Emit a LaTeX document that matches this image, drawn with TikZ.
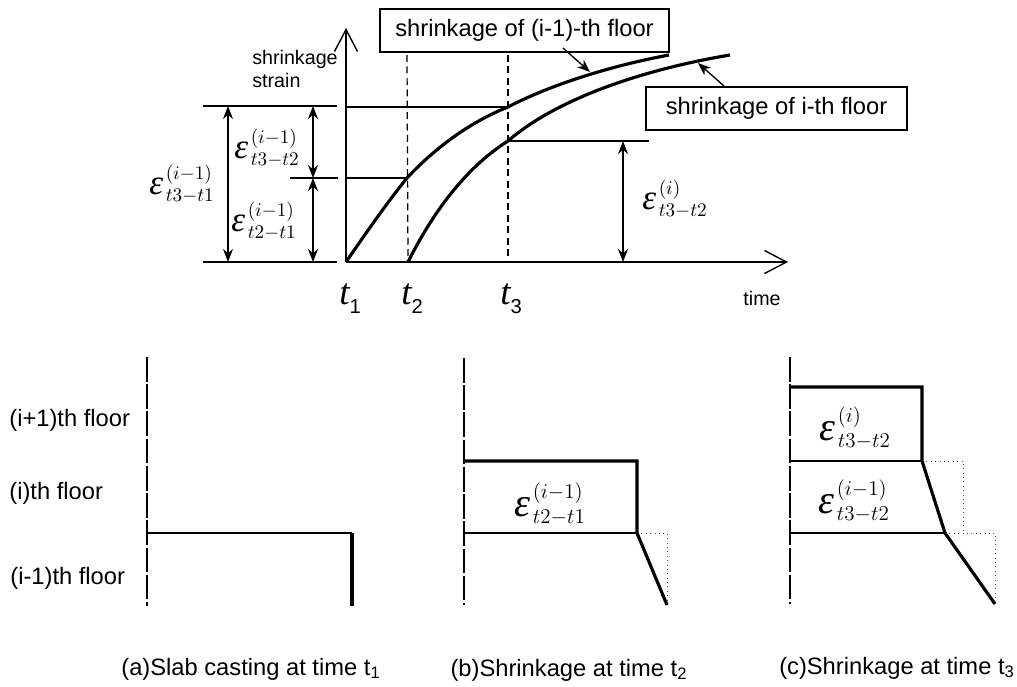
\documentclass[tikz,border=0pt]{standalone}
\usepackage{amsmath}
\usepackage{fontspec}
\setmainfont{Liberation Sans}
\newfontfamily\strainfont{Liberation Serif}
\usetikzlibrary{arrows.meta, positioning}
\DeclareMathSizes{17.28}{17.28}{10.95}{8}
\DeclareMathSizes{20.74}{20.74}{12}{8}
\newcommand{\straingreek}[1]{{\text{\fontsize{#1}{#1}\selectfont\strainfont\itshape ε}\kern1.5pt}}
\newcommand{\strainsmall}[2]{{\LARGE$\straingreek{20}_{#2}^{(#1)}$}}
\newcommand{\strainbig}[2]{{\huge$\straingreek{23}_{#2}^{(#1)}$}}
\newcommand{\timemark}[1]{{\fontsize{21}{21}\selectfont\strainfont\itshape t}\raisebox{-5pt}{\fontsize{11.5}{11.5}\selectfont #1}}

\begin{document}
\begin{tikzpicture}[x=0.02cm, y=-0.02cm, font=\fontsize{13.5}{15}\selectfont,
        thin line/.style={line width=0.75pt},
        slab/.style={line width=1.8pt, line join=miter},
        floor line/.style={line width=1.3pt},
        axis/.style={line width=0.8pt, -{Straight Barb[length=4.4mm, width=4.6mm]}},
        span/.style={line width=0.75pt, {Stealth[length=2.6mm, width=2mm]}-{Stealth[length=2.6mm, width=2mm]}},
        leader/.style={line width=0.75pt, -{Stealth[length=2.6mm, width=2mm]}},
        guide/.style={line width=0.7pt, dash pattern=on 4pt off 2.5pt},
        wall/.style={line width=0.6pt, dash pattern=on 14pt off 1.5pt},
        ghost/.style={line width=0.5pt, dotted, black!70},
        callout/.style={draw, line width=0.9pt, fill=white, inner sep=0pt, align=center},
        small/.style={font=\fontsize{11.2}{13.6}\selectfont, inner sep=0pt}]
        \useasboundingbox (0,0) rectangle (1017,686);
        % strain-time chart
        \coordinate (origin) at (346,262);
        \coordinate (ytop) at (346,28);
        \coordinate (xend) at (788,262);
        \coordinate (second) at (408,262);
        \coordinate (third) at (508,262);
        \coordinate (thirdtop) at (508,55);
        \coordinate (secondtop) at (407,55);
        \coordinate (upmid) at (407,178);
        \coordinate (uphigh) at (508,107);
        \coordinate (upend) at (669,55);
        \coordinate (lowhigh) at (508,141);
        \coordinate (lowend) at (730,55);
        \draw[guide] (secondtop) -- (second);
        \draw[guide] (thirdtop) -- (third);
        \draw[axis] (origin) -- (ytop);
        \draw[axis] (origin) -- (xend);
        \draw[slab] (origin) .. controls (366,233) and (386,204) .. (upmid)
          .. controls (435,148) and (470,122) .. (uphigh)
          .. controls (550,85) and (610,66) .. (upend);
        \draw[slab] (second) .. controls (432,214) and (465,168) .. (lowhigh)
          .. controls (555,100) and (640,70) .. (lowend);
        % level lines
        \coordinate (lefttop) at (203,106);
        \coordinate (lefttopend) at (337,106);
        \coordinate (leftbot) at (203,262);
        \coordinate (leftbotend) at (337,262);
        \coordinate (leftmid) at (290,178);
        \coordinate (leftmidend) at (338,178);
        \coordinate (axishigh) at (346,107);
        \coordinate (axismid) at (346,178);
        \coordinate (rightend) at (649,141);
        \draw[thin line] (lefttop) -- (lefttopend);
        \draw[thin line] (leftbot) -- (leftbotend);
        \draw[thin line] (leftmid) -- (leftmidend);
        \draw[thin line] (axishigh) -- (uphigh);
        \draw[thin line] (axismid) -- (upmid);
        \draw[thin line] (lowhigh) -- (rightend);
        % double arrows
        \coordinate (spanA) at (228,106);
        \coordinate (spanB) at (228,262);
        \coordinate (spanC) at (313,106);
        \coordinate (spanD) at (313,178);
        \coordinate (spanE) at (313,262);
        \coordinate (spanF) at (623,141);
        \coordinate (spanG) at (623,262);
        \draw[span] (spanA) -- (spanB);
        \draw[span] (spanC) -- (spanD);
        \draw[span] (spanD) -- (spanE);
        \draw[span] (spanF) -- (spanG);
        \node[inner sep=0pt] (e31) at (182,184) {\strainsmall{i-1}{t3-t1}};
        \node[inner sep=0pt] (e32) at (267,148) {\strainsmall{i-1}{t3-t2}};
        \node[inner sep=0pt] (e21) at (264,221) {\strainsmall{i-1}{t2-t1}};
        \node[inner sep=0pt] (e32i) at (675,199) {\strainsmall{i}{t3-t2}};
        \node[small, anchor=west, align=left] (ylabel) at (252,69) {shrinkage\\strain};
        \node[small] (xlabel) at (762,298) {time};
        \node (t1) at (350,299) {\timemark{1}};
        \node (t2) at (412,299) {\timemark{2}};
        \node (t3) at (511,299) {\timemark{3}};
        % callouts
        \node[callout, minimum width=5.78cm, minimum height=0.86cm] (upbox) at (524.5,30.5) {shrinkage of (i-1)-th floor};
        \node[callout, minimum width=5.22cm, minimum height=0.86cm] (lowbox) at (776.5,108.5) {shrinkage of i-th floor};
        \coordinate (upfoot) at (563,48);
        \coordinate (uptip) at (590,72);
        \coordinate (lowfoot) at (724,86);
        \coordinate (lowtip) at (698,63);
        \draw[leader] (upfoot) -- (uptip);
        \draw[leader] (lowfoot) -- (lowtip);
        % floor labels
        \node[anchor=west, inner sep=0pt] (floorC) at (9,420) {(i+1)th floor};
        \node[anchor=west, inner sep=0pt] (floorB) at (9,493) {(i)th floor};
        \node[anchor=west, inner sep=0pt] (floorA) at (10,578) {(i-1)th floor};
        % panel a
        \coordinate (wallAtop) at (147,357);
        \coordinate (wallAbot) at (147,606);
        \coordinate (aleft) at (147,533);
        \coordinate (aedge) at (352,533);
        \coordinate (afoot) at (352,606);
        \draw[wall] (wallAtop) -- (wallAbot);
        \draw[floor line] (aleft) -- (aedge);
        \draw[slab] (aedge) -- (afoot);
        \node (capA) at (251,669) {(a)Slab casting at time t\textsubscript{1}};
        % panel b
        \coordinate (wallBtop) at (464,358);
        \coordinate (wallBbot) at (464,605);
        \coordinate (btop) at (464,461);
        \coordinate (bcorner) at (637,461);
        \coordinate (bleft) at (464,533);
        \coordinate (bedge) at (637,533);
        \coordinate (bghost) at (667,533);
        \coordinate (bfoot) at (667,605);
        \draw[ghost] (bedge) -- (bghost) -- (bfoot);
        \draw[wall] (wallBtop) -- (wallBbot);
        \draw[slab] (btop) -- (bcorner) -- (bedge) -- (bfoot);
        \draw[floor line] (bleft) -- (bedge);
        \node[inner sep=0pt] (eb) at (550,504) {\strainbig{i-1}{t2-t1}};
        \node (capB) at (569,670) {(b)Shrinkage at time t\textsubscript{2}};
        % panel c
        \coordinate (wallCtop) at (790,357);
        \coordinate (wallCbot) at (790,604);
        \coordinate (ctop) at (790,387);
        \coordinate (ccorner) at (922,387);
        \coordinate (cleft) at (790,461);
        \coordinate (cedge) at (922,461);
        \coordinate (cghost) at (963,461);
        \coordinate (cghostfoot) at (963,533);
        \coordinate (cfloor) at (790,533);
        \coordinate (cknee) at (945,533);
        \coordinate (cghostend) at (995,533);
        \coordinate (cfoot) at (995,604);
        \draw[ghost] (cedge) -- (cghost) -- (cghostfoot);
        \draw[ghost] (cknee) -- (cghostend) -- (cfoot);
        \draw[wall] (wallCtop) -- (wallCbot);
        \draw[slab] (ctop) -- (ccorner) -- (cedge) -- (cknee) -- (cfoot);
        \draw[floor line] (cleft) -- (cedge);
        \draw[floor line] (cfloor) -- (cknee);
        \node[inner sep=0pt] (ec1) at (855,428) {\strainbig{i}{t3-t2}};
        \node[inner sep=0pt] (ec2) at (854,501) {\strainbig{i-1}{t3-t2}};
        \node (capC) at (897,668) {(c)Shrinkage at time t\textsubscript{3}};
      \end{tikzpicture}
\end{document}
